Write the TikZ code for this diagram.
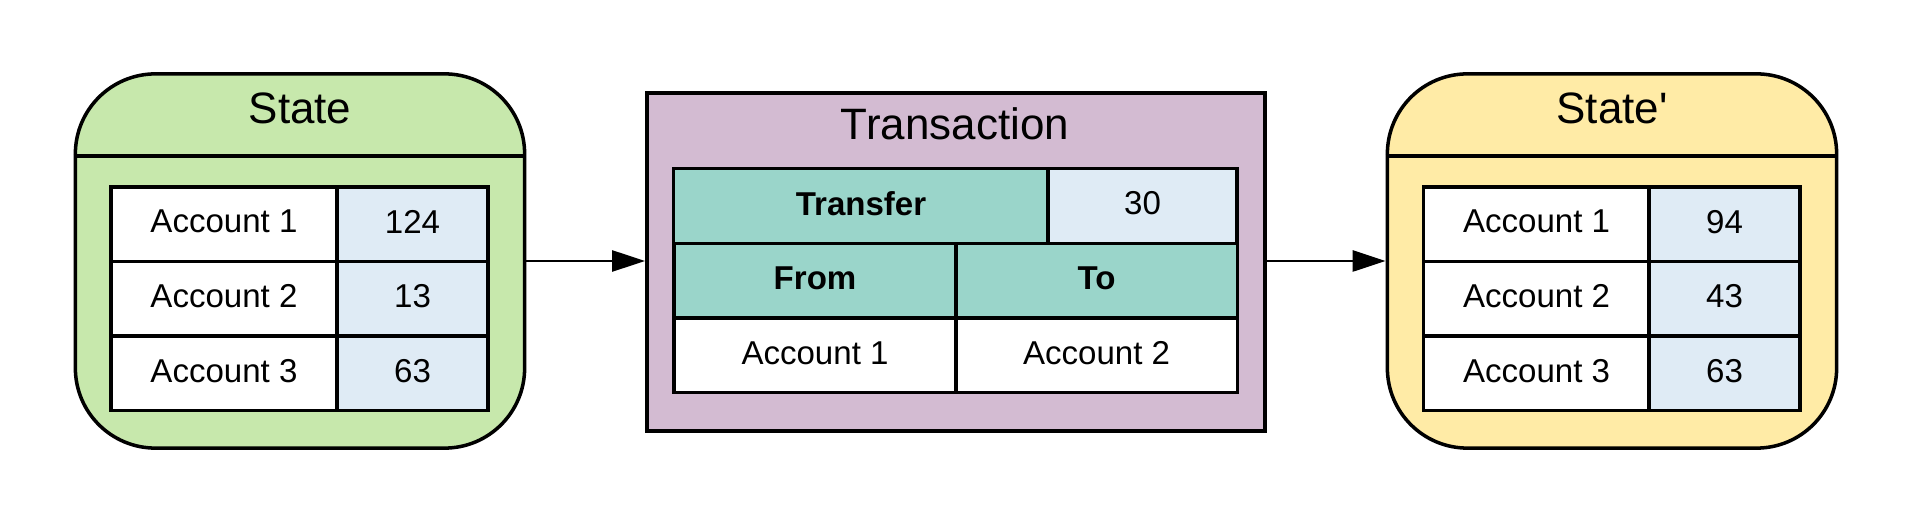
\documentclass[tikz,border=0pt]{standalone}
\usepackage{fontspec}
\setmainfont{Liberation Sans}
\definecolor{StateFill}{HTML}{C7E8AC}
\definecolor{NewStateFill}{HTML}{FFEBA6}
\definecolor{TransactionFill}{HTML}{D3BBD2}
\definecolor{HeaderFill}{HTML}{9AD5CA}
\definecolor{ValueFill}{HTML}{DFEBF5}
\usetikzlibrary{arrows.meta}
\tikzset{
    state box/.style={
        draw, line width=1pt, rounded corners=0.8cm,
        minimum width=4.49cm, minimum height=3.74cm
    },
    tx box/.style={
        draw, line width=1pt, fill=TransactionFill,
        minimum width=6.18cm, minimum height=3.38cm
    },
    title text/.style={font=\fontsize{12.5}{15}\selectfont, anchor=base},
    cell/.style={
        draw, line width=0.9pt, fill=white, inner sep=0pt,
        minimum height=0.745cm, text depth=0.15em,
        font=\fontsize{9.4}{11}\selectfont
    },
    name cell/.style={cell, minimum width=2.26cm},
    value cell/.style={cell, minimum width=1.51cm, fill=ValueFill},
    head cell/.style={cell, fill=HeaderFill, font=\fontsize{9.4}{11}\selectfont\bfseries},
    flow/.style={-{Triangle[length=0.33cm, width=0.21cm]}, line width=0.75pt}
}

\begin{document}
\begin{tikzpicture}[x=0.01cm, y=-0.01cm]

\useasboundingbox (0,0) rectangle (1913,525);

\coordinate (head) at (0,156);

% Estado inicial
\node[state box, fill=StateFill] (state) at (300,261) {};
\node[title text] (stateTitle) at (300,124) {State};
\draw[line width=1pt] (state.west |- head) -- (state.east |- head);

\node[name cell] (stateAccA) at (224,224.25) {Account 1};
\node[value cell] (stateValA) at (412.5,224.25) {124};
\node[name cell] (stateAccB) at (224,298.75) {Account 2};
\node[value cell] (stateValB) at (412.5,298.75) {13};
\node[name cell] (stateAccC) at (224,373.25) {Account 3};
\node[value cell] (stateValC) at (412.5,373.25) {63};

% Transaccion
\node[tx box] (tx) at (956,262) {};
\node[title text] (txTitle) at (955,140) {Transaction};

\node[head cell, minimum width=3.74cm] (txTransfer) at (861,206) {Transfer};
\node[value cell, minimum width=1.89cm] (txAmount) at (1142.5,206) {30};
\node[head cell, minimum width=2.82cm] (txFrom) at (815,280.5) {From};
\node[head cell, minimum width=2.81cm] (txTo) at (1096.5,280.5) {To};
\node[cell, minimum width=2.82cm] (txFromAcc) at (815,355.5) {Account 1};
\node[cell, minimum width=2.81cm] (txToAcc) at (1096.5,355.5) {Account 2};

% Estado final
\node[state box, fill=NewStateFill] (newState) at (1612,261) {};
\node[title text] (newStateTitle) at (1612,124) {State\textquotesingle};
\draw[line width=1pt] (newState.west |- head) -- (newState.east |- head);

\node[name cell] (newStateAccA) at (1536.5,224.25) {Account 1};
\node[value cell] (newStateValA) at (1724.5,224.25) {94};
\node[name cell] (newStateAccB) at (1536.5,298.75) {Account 2};
\node[value cell] (newStateValB) at (1724.5,298.75) {43};
\node[name cell] (newStateAccC) at (1536.5,373.25) {Account 3};
\node[value cell] (newStateValC) at (1724.5,373.25) {63};

% Flechas entre los bloques
\draw[flow] (state.east) -- (state.east -| tx.west);
\draw[flow] (tx.east |- newState.west) -- (newState.west);

\end{tikzpicture}
\end{document}
